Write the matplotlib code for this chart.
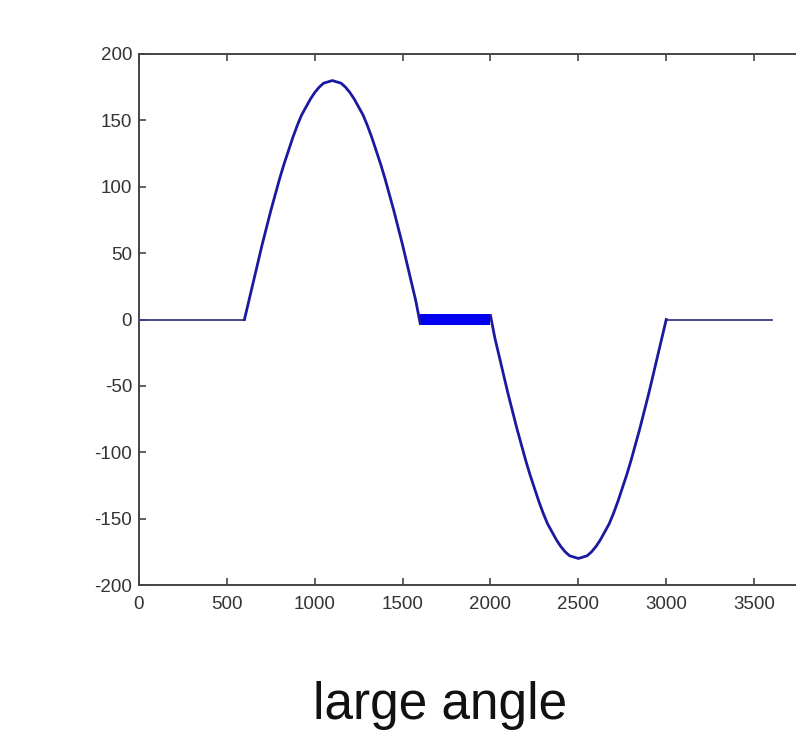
import matplotlib
matplotlib.use("Agg")
import matplotlib.pyplot as plt

# flat parts
flat1_x = [0, 600]
flat1_y = [0, 0]
flat2_x = [3000, 3600]
flat2_y = [0, 0]

# positive hump, read every 25 from 600 to 1600
hump1_x = list(range(600, 1601, 25))
hump1_y = [0, 14, 28, 42, 56, 69, 82, 94, 106, 117, 127, 137, 146, 154,
           160, 166, 171, 175, 178, 179, 180, 179, 178, 175, 171, 166, 160,
           154, 146, 137, 127, 117, 106, 94, 82, 69, 56, 42, 28, 14, -3]

# thick band between the humps
band_x = [1600, 2000]
band_top = [4, 4]
band_bottom = [-4, -4]

# negative hump, read every 25 from 2000 to 3000
hump2_x = list(range(2000, 3001, 25))
hump2_y = [3, -14, -28, -42, -56, -69, -82, -94, -106, -117, -127, -137,
           -146, -154, -160, -166, -171, -175, -178, -179, -180, -179, -178,
           -175, -171, -166, -160, -154, -146, -137, -127, -117, -106, -94,
           -82, -69, -56, -42, -28, -14, 0]

xticks = [0, 500, 1000, 1500, 2000, 2500, 3000, 3500]
yticks = [-200, -150, -100, -50, 0, 50, 100, 150, 200]

plt.rcParams['font.family'] = ['Liberation Sans', 'DejaVu Sans']
plt.rcParams['axes.unicode_minus'] = False

fig = plt.figure(figsize=(7.96, 7.30), dpi=100)
ax = fig.add_axes([139 / 796, 1 - 585 / 730, 703 / 796, 531 / 730])

ax.plot(flat1_x, flat1_y, color='#3a3a8a', lw=1.3)
ax.plot(flat2_x, flat2_y, color='#3a3a8a', lw=1.3)
ax.plot(hump1_x, hump1_y, color='#1a1aa0', lw=2.0)
ax.plot(hump2_x, hump2_y, color='#1a1aa0', lw=2.0)
ax.fill_between(band_x, band_bottom, band_top, color='#0000ee', lw=0)

ax.set_xlim(0, 4000)
ax.set_ylim(-200, 200)
ax.set_xticks(xticks)
ax.set_yticks(yticks)
ax.tick_params(direction='in', length=5, width=1.2, top=True, right=True,
               labelsize=13.5, labelcolor='#333333', color='#444444', pad=5)
ax.tick_params(axis='x', pad=8)
for s in ax.spines.values():
    s.set_color('#444444')
    s.set_linewidth(1.4)

fig.text(440 / 796, 1 - 705 / 730, 'large angle', fontsize=37,
         ha='center', va='center', color='#111111')

fig.savefig('out.png', dpi=100)
